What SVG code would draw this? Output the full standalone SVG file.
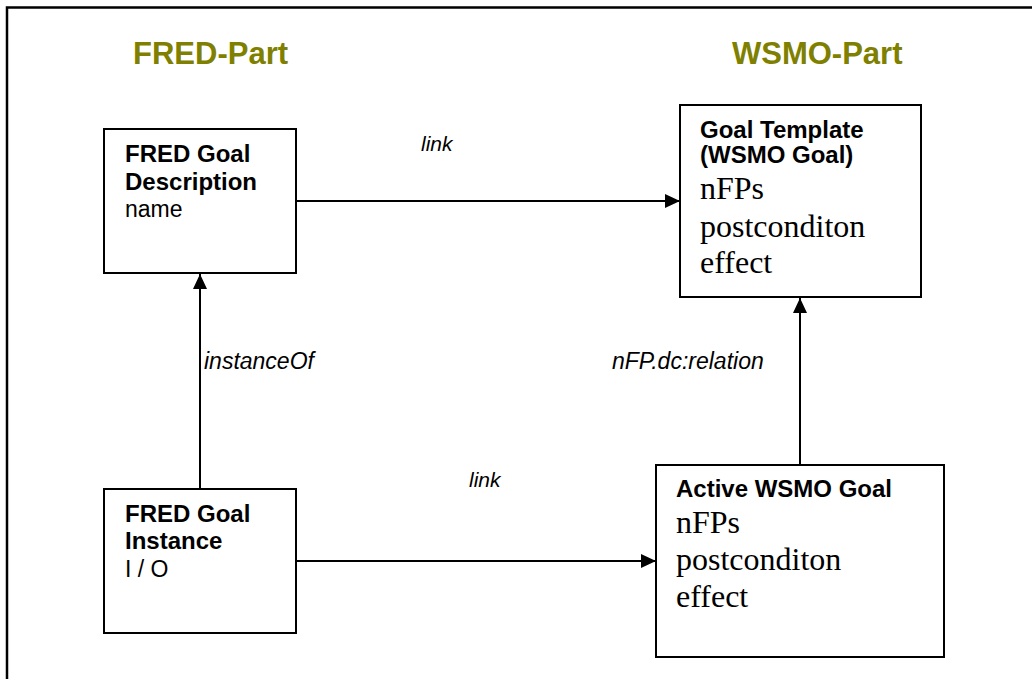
<svg xmlns="http://www.w3.org/2000/svg" width="1032" height="679" viewBox="0 0 1032 679">
<style>
.box{fill:#fff;stroke:#000;stroke-width:2}
.title{font-family:"Liberation Sans",Arial,sans-serif;font-weight:bold;font-size:31px;fill:#808000}
.hd{font-family:"Liberation Sans",Arial,sans-serif;font-weight:bold;font-size:24px;fill:#000}
.sans{font-family:"Liberation Sans",Arial,sans-serif;font-size:23px;fill:#000}
.serif{font-family:"Liberation Serif","Times New Roman",serif;font-size:32px;fill:#000}
.lbl{font-family:"Liberation Sans",Arial,sans-serif;font-style:italic;font-size:23px;fill:#000}
.lnk{font-family:"Liberation Sans",Arial,sans-serif;font-style:italic;font-size:21px;fill:#000}
.conn{stroke:#000;stroke-width:2;fill:none;marker-end:url(#arr)}
</style>
<defs>
<marker id="arr" markerWidth="16" markerHeight="16" refX="15" refY="8" orient="auto" markerUnits="userSpaceOnUse">
<path d="M0,1 L15,8 L0,15 Z" fill="#000"/>
</marker>
</defs>
<rect width="1032" height="679" fill="#fff"/>
<path d="M7,679 V7.5 H1032" fill="none" stroke="#000" stroke-width="2.5"/>
<text class="title" x="133" y="64">FRED-Part</text>
<text class="title" x="732" y="64">WSMO-Part</text>
<g id="connectors">
<line class="conn" x1="296" y1="201" x2="680" y2="201"/>
<line class="conn" x1="296" y1="561" x2="656" y2="561"/>
<line class="conn" x1="200" y1="489" x2="200" y2="274"/>
<line class="conn" x1="800" y1="465" x2="800" y2="298"/>
<text class="lnk" x="421" y="151">link</text>
<text class="lnk" x="469" y="487">link</text>
<text class="lbl" x="204" y="369">instanceOf</text>
<text class="lbl" x="612" y="369">nFP.dc:relation</text>
</g>
<g id="fred-goal-description">
<rect class="box" x="104" y="129" width="192" height="144"/>
<text class="hd" x="125" y="162">FRED Goal</text>
<text class="hd" x="125" y="190">Description</text>
<text class="sans" x="125" y="217">name</text>
</g>
<g id="goal-template">
<rect class="box" x="680" y="105" width="241" height="192"/>
<text class="hd" x="700" y="138">Goal Template</text>
<text class="hd" x="700" y="163">(WSMO Goal)</text>
<text class="serif" x="700" y="199">nFPs</text>
<text class="serif" x="700" y="237">postconditon</text>
<text class="serif" x="700" y="273">effect</text>
</g>
<g id="fred-goal-instance">
<rect class="box" x="104" y="489" width="192" height="144"/>
<text class="hd" x="125" y="522">FRED Goal</text>
<text class="hd" x="125" y="549">Instance</text>
<text class="sans" x="125" y="577">I / O</text>
</g>
<g id="active-wsmo-goal">
<rect class="box" x="656" y="465" width="288" height="192"/>
<text class="hd" x="676" y="497">Active WSMO Goal</text>
<text class="serif" x="676" y="533">nFPs</text>
<text class="serif" x="676" y="570">postconditon</text>
<text class="serif" x="676" y="607">effect</text>
</g>
</svg>
